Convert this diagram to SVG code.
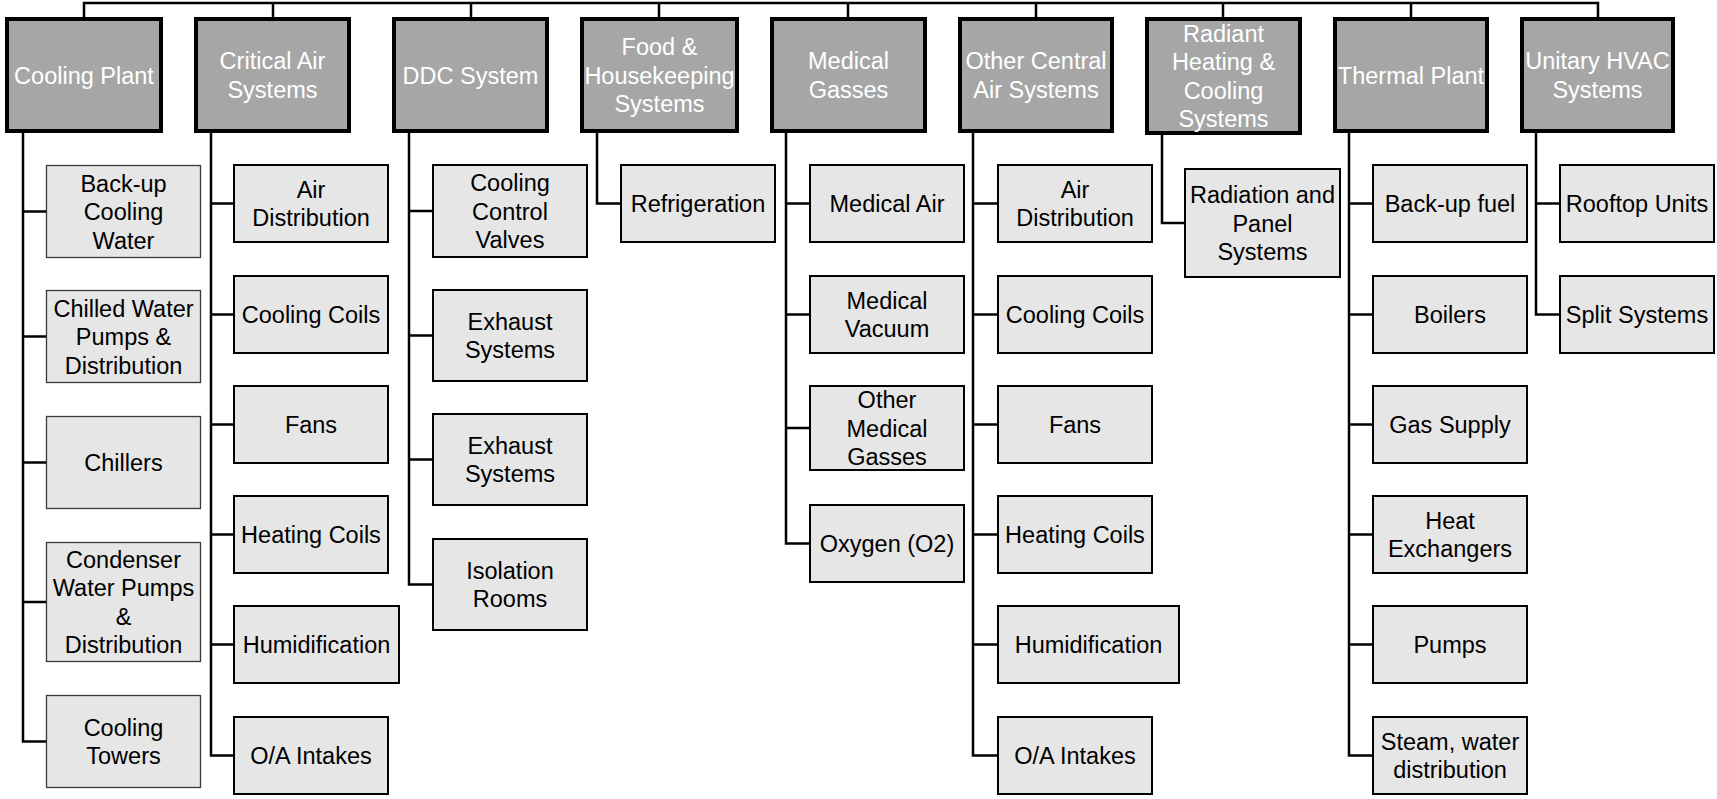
<svg xmlns="http://www.w3.org/2000/svg" width="1717" height="799" viewBox="0 0 1717 799">
<style>
.h rect{fill:#a6a6a6;stroke:#000;stroke-width:4}
.h text{fill:#fff;font-family:"Liberation Sans",Arial,sans-serif;font-size:23.5px;text-anchor:middle}
.c rect{fill:#e6e6e6;stroke:#000;stroke-width:2}
.t rect{fill:#e6e6e6;stroke:#3a3a3a;stroke-width:1.3}
.c text,.t text{fill:#000;font-family:"Liberation Sans",Arial,sans-serif;font-size:23.5px;text-anchor:middle}
#connectors path{fill:none;stroke:#000;stroke-width:2.5;stroke-linejoin:miter}
</style>
<rect width="1717" height="799" fill="#fff"/>
<g id="connectors">
<path d="M84,17 V3 H1598 V17 M273,3 V17 M471,3 V17 M659,3 V17 M848,3 V17 M1036,3 V17 M1223,3 V17 M1411,3 V17"/>
<path d="M23,133 V741.5 H46 M23,211.5 H46 M23,336.5 H46 M23,462.5 H46 M23,602 H46"/>
<path d="M211,133 V755.5 H233 M211,203.5 H233 M211,314.5 H233 M211,424.5 H233 M211,534.5 H233 M211,644.5 H233"/>
<path d="M409,133 V584.5 H432 M409,211 H432 M409,335.5 H432 M409,459.5 H432"/>
<path d="M597,133 V203.5 H620"/>
<path d="M786,133 V543.5 H809 M786,203.5 H809 M786,314.5 H809 M786,428 H809"/>
<path d="M973,133 V755.5 H997 M973,203.5 H997 M973,314.5 H997 M973,424.5 H997 M973,534.5 H997 M973,644.5 H997"/>
<path d="M1162,135 V223 H1184"/>
<path d="M1349,133 V755.5 H1372 M1349,203.5 H1372 M1349,314.5 H1372 M1349,424.5 H1372 M1349,534.5 H1372 M1349,644.5 H1372"/>
<path d="M1536,133 V314.5 H1559 M1536,203.5 H1559"/>
</g>

<g id="cooling-plant" class="h"><rect x="7" y="19" width="154" height="112"/><text x="84" y="83.5">Cooling Plant</text></g>
<g id="critical-air" class="h"><rect x="196" y="19" width="153" height="112"/><text x="272.5"><tspan x="272.5" y="69.25">Critical Air</tspan><tspan x="272.5" y="97.75">Systems</tspan></text></g>
<g id="ddc" class="h"><rect x="394" y="19" width="153" height="112"/><text x="470.5" y="83.5">DDC System</text></g>
<g id="food" class="h"><rect x="582" y="19" width="155" height="112"/><text><tspan x="659.5" y="55">Food &amp;</tspan><tspan x="659.5" y="83.5">Housekeeping</tspan><tspan x="659.5" y="112">Systems</tspan></text></g>
<g id="medical" class="h"><rect x="772" y="19" width="153" height="112"/><text><tspan x="848.5" y="69.25">Medical</tspan><tspan x="848.5" y="97.75">Gasses</tspan></text></g>
<g id="other-central" class="h"><rect x="960" y="19" width="152" height="112"/><text><tspan x="1036" y="69.25">Other Central</tspan><tspan x="1036" y="97.75">Air Systems</tspan></text></g>
<g id="radiant" class="h"><rect x="1147" y="19" width="153" height="114"/><text><tspan x="1223.5" y="41.75">Radiant</tspan><tspan x="1223.5" y="70.25">Heating &amp;</tspan><tspan x="1223.5" y="98.75">Cooling</tspan><tspan x="1223.5" y="127.25">Systems</tspan></text></g>
<g id="thermal" class="h"><rect x="1335" y="19" width="152" height="112"/><text x="1411" y="83.5">Thermal Plant</text></g>
<g id="unitary" class="h"><rect x="1522" y="19" width="151" height="112"/><text><tspan x="1597.5" y="69.25">Unitary HVAC</tspan><tspan x="1597.5" y="97.75">Systems</tspan></text></g>

<g id="cp-backup" class="t"><rect x="46.5" y="165.5" width="154" height="92"/><text><tspan x="123.5" y="191.5">Back-up</tspan><tspan x="123.5" y="220">Cooling</tspan><tspan x="123.5" y="248.5">Water</tspan></text></g>
<g id="cp-chilled" class="t"><rect x="46.5" y="290.5" width="154" height="92"/><text><tspan x="123.5" y="316.5">Chilled Water</tspan><tspan x="123.5" y="345">Pumps &amp;</tspan><tspan x="123.5" y="373.5">Distribution</tspan></text></g>
<g id="cp-chillers" class="t"><rect x="46.5" y="416.5" width="154" height="92"/><text x="123.5" y="471">Chillers</text></g>
<g id="cp-condenser" class="t"><rect x="46.5" y="542.5" width="154" height="119"/><text><tspan x="123.5" y="567.75">Condenser</tspan><tspan x="123.5" y="596.25">Water Pumps</tspan><tspan x="123.5" y="624.75">&amp;</tspan><tspan x="123.5" y="653.25">Distribution</tspan></text></g>
<g id="cp-towers" class="t"><rect x="46.5" y="695.5" width="154" height="92"/><text><tspan x="123.5" y="735.75">Cooling</tspan><tspan x="123.5" y="764.25">Towers</tspan></text></g>

<g id="ca-air" class="c"><rect x="234" y="165" width="154" height="77"/><text><tspan x="311" y="197.75">Air</tspan><tspan x="311" y="226.25">Distribution</tspan></text></g>
<g id="ca-cooling" class="c"><rect x="234" y="276" width="154" height="77"/><text x="311" y="323">Cooling Coils</text></g>
<g id="ca-fans" class="c"><rect x="234" y="386" width="154" height="77"/><text x="311" y="433">Fans</text></g>
<g id="ca-heating" class="c"><rect x="234" y="496" width="154" height="77"/><text x="311" y="543">Heating Coils</text></g>
<g id="ca-humid" class="c"><rect x="234" y="606" width="165" height="77"/><text x="316.5" y="653">Humidification</text></g>
<g id="ca-oa" class="c"><rect x="234" y="717" width="154" height="77"/><text x="311" y="764">O/A Intakes</text></g>

<g id="ddc-valves" class="c"><rect x="433" y="165" width="154" height="92"/><text><tspan x="510" y="191">Cooling</tspan><tspan x="510" y="219.5">Control</tspan><tspan x="510" y="248">Valves</tspan></text></g>
<g id="ddc-exhaust1" class="c"><rect x="433" y="290" width="154" height="91"/><text><tspan x="510" y="329.75">Exhaust</tspan><tspan x="510" y="358.25">Systems</tspan></text></g>
<g id="ddc-exhaust2" class="c"><rect x="433" y="414" width="154" height="91"/><text><tspan x="510" y="453.75">Exhaust</tspan><tspan x="510" y="482.25">Systems</tspan></text></g>
<g id="ddc-isolation" class="c"><rect x="433" y="539" width="154" height="91"/><text><tspan x="510" y="578.75">Isolation</tspan><tspan x="510" y="607.25">Rooms</tspan></text></g>

<g id="food-refrig" class="c"><rect x="621" y="165" width="154" height="77"/><text x="698" y="212">Refrigeration</text></g>

<g id="med-air" class="c"><rect x="810" y="165" width="154" height="77"/><text x="887" y="212">Medical Air</text></g>
<g id="med-vacuum" class="c"><rect x="810" y="276" width="154" height="77"/><text><tspan x="887" y="308.75">Medical</tspan><tspan x="887" y="337.25">Vacuum</tspan></text></g>
<g id="med-other" class="c"><rect x="810" y="386" width="154" height="84"/><text><tspan x="887" y="408">Other</tspan><tspan x="887" y="436.5">Medical</tspan><tspan x="887" y="465">Gasses</tspan></text></g>
<g id="med-oxygen" class="c"><rect x="810" y="505" width="154" height="77"/><text x="887" y="552">Oxygen (O2)</text></g>

<g id="oc-air" class="c"><rect x="998" y="165" width="154" height="77"/><text><tspan x="1075" y="197.75">Air</tspan><tspan x="1075" y="226.25">Distribution</tspan></text></g>
<g id="oc-cooling" class="c"><rect x="998" y="276" width="154" height="77"/><text x="1075" y="323">Cooling Coils</text></g>
<g id="oc-fans" class="c"><rect x="998" y="386" width="154" height="77"/><text x="1075" y="433">Fans</text></g>
<g id="oc-heating" class="c"><rect x="998" y="496" width="154" height="77"/><text x="1075" y="543">Heating Coils</text></g>
<g id="oc-humid" class="c"><rect x="998" y="606" width="181" height="77"/><text x="1088.5" y="653">Humidification</text></g>
<g id="oc-oa" class="c"><rect x="998" y="717" width="154" height="77"/><text x="1075" y="764">O/A Intakes</text></g>

<g id="rad-panel" class="c"><rect x="1185" y="169" width="155" height="108"/><text><tspan x="1262.5" y="203">Radiation and</tspan><tspan x="1262.5" y="231.5">Panel</tspan><tspan x="1262.5" y="260">Systems</tspan></text></g>

<g id="tp-fuel" class="c"><rect x="1373" y="165" width="154" height="77"/><text x="1450" y="212">Back-up fuel</text></g>
<g id="tp-boilers" class="c"><rect x="1373" y="276" width="154" height="77"/><text x="1450" y="323">Boilers</text></g>
<g id="tp-gas" class="c"><rect x="1373" y="386" width="154" height="77"/><text x="1450" y="433">Gas Supply</text></g>
<g id="tp-hx" class="c"><rect x="1373" y="496" width="154" height="77"/><text><tspan x="1450" y="528.75">Heat</tspan><tspan x="1450" y="557.25">Exchangers</tspan></text></g>
<g id="tp-pumps" class="c"><rect x="1373" y="606" width="154" height="77"/><text x="1450" y="653">Pumps</text></g>
<g id="tp-steam" class="c"><rect x="1373" y="717" width="154" height="77"/><text><tspan x="1450" y="749.75">Steam, water</tspan><tspan x="1450" y="778.25">distribution</tspan></text></g>

<g id="un-rooftop" class="c"><rect x="1560" y="165" width="154" height="77"/><text x="1637" y="212">Rooftop Units</text></g>
<g id="un-split" class="c"><rect x="1560" y="276" width="154" height="77"/><text x="1637" y="323">Split Systems</text></g>
</svg>
